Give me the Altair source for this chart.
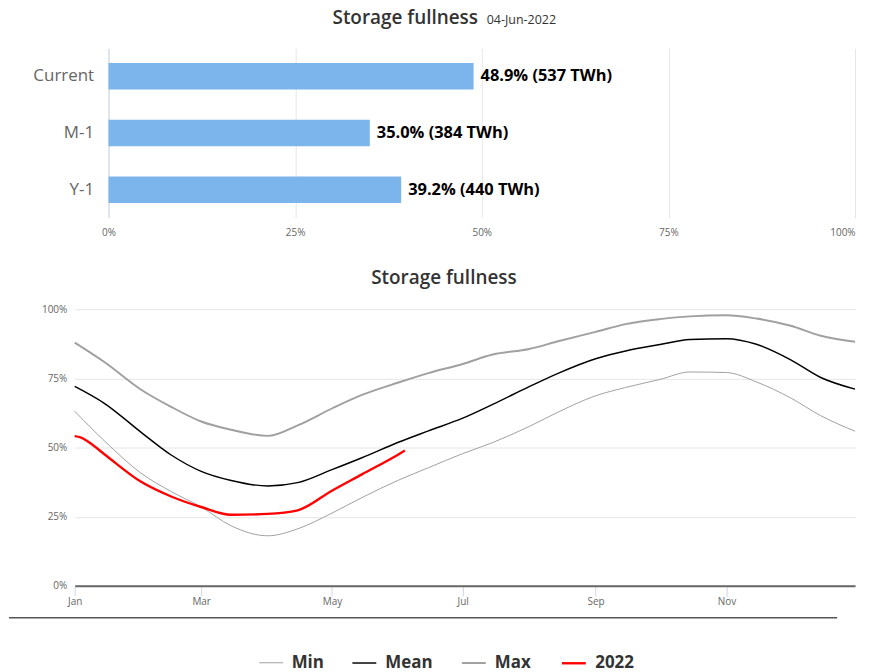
import altair as alt
import pandas as pd

# ---- top bar chart data ----
bar_cats = ["Current", "M-1", "Y-1"]
bar_pct = [48.9, 35.0, 39.2]
bar_twh = [537, 384, 440]

# ---- bottom line chart data ----
dates = ["2022-01-01", "2022-01-15", "2022-02-01", "2022-02-15", "2022-03-01",
         "2022-03-15", "2022-04-01", "2022-04-15", "2022-05-01", "2022-05-15",
         "2022-06-01", "2022-06-15", "2022-07-01", "2022-07-15", "2022-08-01",
         "2022-08-15", "2022-09-01", "2022-09-15", "2022-10-01", "2022-10-15",
         "2022-11-01", "2022-11-15", "2022-12-01", "2022-12-15", "2022-12-31"]
min_vals = [63.1, 52.3, 40.7, 34.1, 28.5, 21.7, 18.1, 20.6, 26.3, 31.9,
            38.2, 42.7, 47.8, 51.8, 57.6, 63.0, 68.7, 71.7, 74.6, 77.3,
            77.1, 73.7, 67.9, 61.5, 55.9]
mean_vals = [72.1, 65.9, 55.5, 47.3, 41.4, 38.1, 36.1, 37.3, 42.0, 46.3,
             51.9, 56.0, 60.6, 65.6, 72.0, 77.0, 82.1, 84.9, 87.2, 89.0,
             89.3, 87.3, 81.7, 75.3, 71.1]
max_vals = [87.9, 80.8, 70.9, 64.7, 59.4, 56.4, 54.2, 58.0, 64.1, 69.0,
            73.5, 76.9, 80.2, 83.6, 85.6, 88.5, 91.8, 94.6, 96.4, 97.4,
            97.8, 96.6, 94.0, 90.4, 88.2]
dates_2022 = ["2022-01-01", "2022-01-04", "2022-01-08", "2022-01-15", "2022-02-01",
              "2022-02-15", "2022-03-01", "2022-03-15", "2022-04-01", "2022-04-15",
              "2022-05-01", "2022-05-15", "2022-06-01", "2022-06-04"]
vals_2022 = [54.1, 53.6, 51.7, 47.5, 37.6, 32.3, 28.5, 25.7, 26.0, 27.3,
             34.4, 40.3, 47.5, 48.9]

series_order = ["Min", "Mean", "Max", "2022"]
series_colors = ["#a0a0a0", "#000000", "#a0a0a0", "#ff0000"]
series_widths = [1.0, 2.4, 1.0, 2.2]

FONT = "Open Sans"

# ---------------- top chart ----------------
bars_df = pd.DataFrame({
    "cat": bar_cats,
    "pct": bar_pct,
    "label": [f"{p:.1f}% ({t} TWh)" for p, t in zip(bar_pct, bar_twh)],
})

x_top = alt.X(
    "pct:Q",
    scale=alt.Scale(domain=[0, 100], range=[34, 784], nice=False),
    axis=alt.Axis(values=[0, 25, 50, 75, 100], labelExpr="datum.value + '%'",
                  labelFlush=False,
                  labelAlign={"condition": {"test": "datum.value == 100", "value": "right"},
                              "value": "center"},
                  domain=False, ticks=False, grid=True, gridColor="#e6e6e6",
                  labelColor="#666666", labelFontSize=10, labelPadding=10, title=None),
)
y_top = alt.Y(
    "cat:N", sort=bar_cats,
    scale=alt.Scale(paddingInner=0.53, paddingOuter=0.256),
    axis=alt.Axis(title=None, offset=-34, domainColor="#ccd6eb", ticks=False,
                  labelFontSize=17, labelColor="#666666", labelPadding=15, grid=False),
)

bars = alt.Chart(bars_df).mark_bar(color="#7cb5ec").encode(x=x_top, y=y_top)
bar_labels = alt.Chart(bars_df).mark_text(
    align="left", baseline="middle", dx=7, fontSize=16.5, fontWeight="bold", color="#000000"
).encode(x=alt.X("pct:Q"), y=alt.Y("cat:N", sort=bar_cats), text="label:N")

top_title = alt.Chart(pd.DataFrame({"t": ["Storage fullness"]})).mark_text(
    align="left", baseline="alphabetic", fontSize=19, fontWeight=600, color="#333333"
).encode(x=alt.value(259), y=alt.value(-24), text="t:N")
top_date = alt.Chart(pd.DataFrame({"t": ["04-Jun-2022"]})).mark_text(
    align="left", baseline="alphabetic", fontSize=12.5, color="#333333"
).encode(x=alt.value(414), y=alt.value(-24), text="t:N")

top = alt.layer(bars, bar_labels, top_title, top_date).properties(width=784, height=170)

# ---------------- bottom chart ----------------
rows = []
for name, ds, vs in [("Min", dates, min_vals), ("Max", dates, max_vals),
                     ("Mean", dates, mean_vals), ("2022", dates_2022, vals_2022)]:
    for d, v in zip(ds, vs):
        rows.append({"series": name, "date": d, "value": v})
lines_df = pd.DataFrame(rows)

leg = alt.Legend(title=None, orient="none", legendX=185, legendY=342, direction="horizontal",
                 symbolType="stroke", symbolSize=576, labelFontSize=17, labelFontWeight="bold",
                 labelColor="#333333", columnPadding=25, labelOffset=8, padding=0)

x_bot = alt.X(
    "date:T",
    scale=alt.Scale(type="utc",
                    domain=[alt.DateTime(year=2022, month=1, date=1, utc=True),
                            alt.DateTime(year=2022, month=12, date=31, utc=True)],
                    nice=False),
    axis=alt.Axis(values=[alt.DateTime(year=2022, month=m, date=1, utc=True) for m in [1, 3, 5, 7, 9, 11]],
                  format="%b", title=None, grid=False, domainColor="#666666", domainWidth=2,
                  tickColor="#ccd6eb", tickSize=10, labelColor="#666666", labelFontSize=10,
                  labelPadding=1, labelFlush=False),
)
y_bot = alt.Y(
    "value:Q",
    scale=alt.Scale(domain=[0, 100], nice=False),
    axis=alt.Axis(values=[0, 25, 50, 75, 100], labelExpr="datum.value + '%'", title=None,
                  domain=False, ticks=False, gridColor="#e6e6e6", labelColor="#666666",
                  labelFontSize=10, labelPadding=8),
)

lines = alt.Chart(lines_df).mark_line(interpolate="monotone").encode(
    x=x_bot, y=y_bot,
    color=alt.Color("series:N", scale=alt.Scale(domain=series_order, range=series_colors), legend=leg),
    strokeWidth=alt.StrokeWidth("series:N", scale=alt.Scale(domain=series_order, range=series_widths), legend=leg),
)

bot_title = alt.Chart(pd.DataFrame({"t": ["Storage fullness"]})).mark_text(
    align="center", baseline="alphabetic", fontSize=19, fontWeight=600, color="#333333"
).encode(x=alt.value(371), y=alt.value(-25), text="t:N")

sep = alt.Chart(pd.DataFrame({"t": [0]})).mark_rule(color="#555555", strokeWidth=1.5).encode(
    x=alt.value(-66), x2=alt.value(766), y=alt.value(310))

bottom = alt.layer(lines, bot_title, sep).properties(width=784, height=278)

chart = alt.vconcat(top, bottom, spacing=92, bounds="flush").resolve_scale(
    x="independent", y="independent", color="independent", strokeWidth="independent"
).properties(
    padding={"left": 0, "top": 0, "right": 5, "bottom": 8}
).configure(font=FONT).configure_view(strokeWidth=0)

chart.save("out.html", embed_options={"renderer": "svg", "actions": False})
